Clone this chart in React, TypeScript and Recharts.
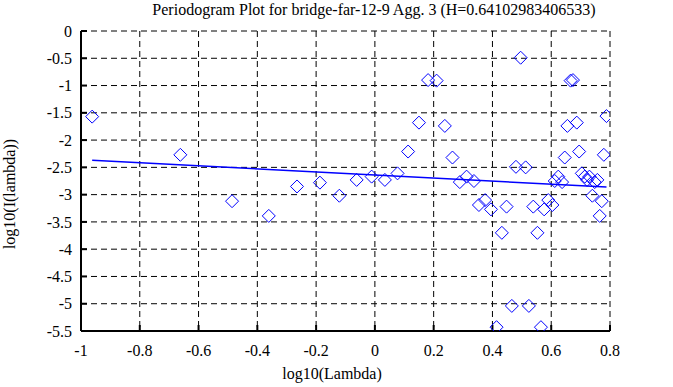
import React from "react";
import {
  ComposedChart,
  Scatter,
  Line,
  XAxis,
  YAxis,
  CartesianGrid,
} from "recharts";

// periodogram points (log10 lambda, log10 I(lambda))
const logLambda = [
  -0.962, -0.662, -0.486, -0.361, -0.265, -0.187, -0.121, -0.062, -0.011, 0.034,
  0.077, 0.113, 0.15, 0.181, 0.21, 0.238, 0.264, 0.289, 0.312, 0.337,
  0.354, 0.375, 0.395, 0.414, 0.432, 0.448, 0.466, 0.48, 0.496, 0.513,
  0.524, 0.539, 0.553, 0.565, 0.576, 0.59, 0.604, 0.612, 0.624, 0.637,
  0.646, 0.655, 0.666, 0.674, 0.687, 0.695, 0.704, 0.714, 0.722, 0.73,
  0.74, 0.748, 0.757, 0.765, 0.772, 0.779, 0.788,
];
const logPower = [
  -1.57, -2.27, -3.12, -3.39, -2.85, -2.78, -3.02, -2.73, -2.67, -2.73,
  -2.61, -2.21, -1.68, -0.9, -0.91, -1.74, -2.32, -2.77, -2.67, -2.75,
  -3.19, -3.1, -3.27, -5.43, -3.7, -3.22, -5.04, -2.49, -0.49, -2.5,
  -5.04, -3.22, -3.7, -5.43, -3.27, -3.1, -3.19, -2.75, -2.67, -2.77,
  -2.32, -1.74, -0.91, -0.9, -1.68, -2.21, -2.61, -2.67, -2.73, -2.67,
  -3.02, -2.77, -2.73, -3.39, -3.12, -2.27, -1.56,
];

// least squares fit endpoints
const fitX = [-0.962, 0.788];
const fitY = [-2.37, -2.86];

const xTicks = [-1, -0.8, -0.6, -0.4, -0.2, 0, 0.2, 0.4, 0.6, 0.8];
const yTicks = [0, -0.5, -1, -1.5, -2, -2.5, -3, -3.5, -4, -4.5, -5, -5.5];

const points = logLambda.map((x, i) => ({ x, y: logPower[i] }));
const fitLine = fitX.map((x, i) => ({ x, y: fitY[i] }));

const FONT = "Liberation Serif, DejaVu Serif, serif";

const Diamond = (props: any) => {
  const { cx, cy } = props;
  const r = 6.5;
  return (
    <path
      d={`M${cx},${cy - r}L${cx + r},${cy}L${cx},${cy + r}L${cx - r},${cy}Z`}
      fill="none"
      stroke="#0000ff"
      strokeWidth={1}
    />
  );
};

const XTick = ({ x, y, payload }: any) => (
  <text x={x} y={y} dy="0.71em" textAnchor="middle" fill="#000" fontSize={16} fontFamily={FONT}>
    {payload.value}
  </text>
);

const YTick = ({ x, y, payload }: any) => (
  <text x={x} y={y} dy="0.355em" textAnchor="end" fill="#000" fontSize={16} fontFamily={FONT}>
    {payload.value}
  </text>
);

export default function App() {
  return (
    <div
      style={{
        position: "absolute",
        left: 0,
        top: 0,
        width: 673,
        height: 387,
        background: "#fff",
        fontFamily: FONT,
      }}
    >
      <div
        style={{
          position: "absolute",
          top: 1,
          left: 374,
          transform: "translateX(-50%)",
          whiteSpace: "nowrap",
          fontSize: 16,
        }}
      >
        Periodogram Plot for bridge-far-12-9 Agg. 3 (H=0.64102983406533)
      </div>
      <div
        style={{
          position: "absolute",
          top: 365,
          left: 332,
          transform: "translateX(-50%)",
          whiteSpace: "nowrap",
          fontSize: 16,
        }}
      >
        log10(Lambda)
      </div>
      <div
        style={{
          position: "absolute",
          top: 194,
          left: 10,
          transform: "translate(-50%, -50%) rotate(-90deg)",
          whiteSpace: "nowrap",
          fontSize: 16,
        }}
      >
        log10(I(lambda))
      </div>

      <ComposedChart
        width={673}
        height={387}
        margin={{ top: 31, right: 63, bottom: 0, left: 0 }}
        style={{ position: "absolute", left: 0, top: 0, fontFamily: FONT }}
      >
        <CartesianGrid
          stroke="#000"
          strokeDasharray="6 4"
          strokeWidth={1}
          horizontalValues={yTicks}
          verticalValues={xTicks}
        />
        <XAxis
          xAxisId={0}
          dataKey="x"
          type="number"
          domain={[-1, 0.8]}
          ticks={xTicks}
          height={56}
          tickSize={-6}
          tickMargin={20}
          axisLine={{ stroke: "#000", strokeWidth: 2 }}
          tickLine={{ stroke: "#000", strokeWidth: 2 }}
          tick={XTick}
          allowDataOverflow
        />
        <XAxis
          xAxisId="top"
          orientation="top"
          type="number"
          domain={[-1, 0.8]}
          ticks={xTicks}
          height={0}
          tickSize={-6}
          axisLine={{ stroke: "#000", strokeWidth: 2 }}
          tickLine={{ stroke: "#000", strokeWidth: 2 }}
          tick={() => <g />}
        />
        <YAxis
          yAxisId={0}
          dataKey="y"
          type="number"
          domain={[-5.5, 0]}
          ticks={yTicks}
          width={81}
          tickSize={-6}
          tickMargin={15}
          axisLine={{ stroke: "#000", strokeWidth: 2 }}
          tickLine={{ stroke: "#000", strokeWidth: 2 }}
          tick={YTick}
          allowDataOverflow
        />
        <YAxis
          yAxisId="right"
          orientation="right"
          type="number"
          domain={[-5.5, 0]}
          ticks={yTicks}
          width={0}
          tickSize={-6}
          axisLine={{ stroke: "#000", strokeWidth: 2 }}
          tickLine={{ stroke: "#000", strokeWidth: 2 }}
          tick={() => <g />}
        />
        <Scatter
          data={points}
          dataKey="y"
          shape={Diamond}
          isAnimationActive={false}
        />
        <Line
          data={fitLine}
          dataKey="y"
          stroke="#0000ff"
          strokeWidth={1.5}
          dot={false}
          isAnimationActive={false}
        />
      </ComposedChart>
    </div>
  );
}
